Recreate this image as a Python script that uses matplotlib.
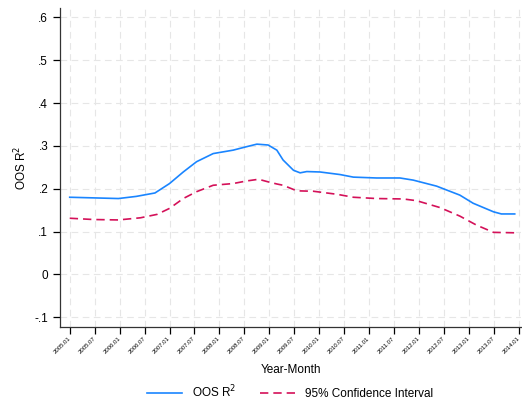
import numpy as np
import matplotlib.pyplot as plt

plt.rcParams['font.family'] = ['Liberation Sans', 'DejaVu Sans']

# months counted from 2005.01 (0) to 2013.12 (107)
oos_month = [0, 11.7, 16, 20.5, 24, 27.3, 30.5, 34.5, 39.3, 42.5, 45, 47.7,
             49.8, 51.3, 53.8, 55.4, 57, 60.2, 65, 68.2, 73.8, 79.4, 82.6,
             88.2, 93.8, 97, 101.9, 103.8, 107]
oos_r2 = [0.180, 0.177, 0.182, 0.190, 0.212, 0.239, 0.263, 0.282, 0.290,
          0.298, 0.304, 0.302, 0.290, 0.267, 0.243, 0.237, 0.240, 0.239,
          0.233, 0.227, 0.225, 0.225, 0.220, 0.206, 0.185, 0.166, 0.146,
          0.141, 0.141]

ci_month = [0, 5.7, 11.7, 17, 21, 24, 27.3, 30.5, 34.5, 39.3, 42.5, 45.4,
            47.7, 49.8, 51.3, 54.6, 58.6, 64.2, 68.2, 73.8, 80.2, 83.4, 89,
            93.8, 97.8, 101.9, 107]
ci_low = [0.131, 0.128, 0.127, 0.132, 0.140, 0.154, 0.177, 0.193, 0.208,
          0.212, 0.218, 0.222, 0.216, 0.211, 0.208, 0.195, 0.194, 0.187,
          0.180, 0.177, 0.176, 0.172, 0.156, 0.136, 0.115, 0.098, 0.097]

tick_labels = ['%d.%02d' % (y, m) for y in range(2005, 2014) for m in (1, 7)] + ['2014.01']
tick_pos = np.arange(len(tick_labels)) * 6
y_ticks = [-0.1, 0, 0.1, 0.2, 0.3, 0.4, 0.5, 0.6]
y_labels = ['-.1', '0', '.1', '.2', '.3', '.4', '.5', '.6']

fig = plt.figure(figsize=(5.22, 4.05), dpi=100)
ax = fig.add_axes([0.115, 0.193, 0.883, 0.787])

ax.plot(oos_month, oos_r2, color='#1a85ff', lw=1.2, label='OOS R$^2$')
ax.plot(ci_month, ci_low, color='#d41159', lw=1.2, ls=(0, (5, 3)),
        label='95% Confidence Interval')

ax.set_xlim(-2.33, 108.5)
ax.set_ylim(-0.1226, 0.6217)
ax.set_xticks(tick_pos)
# slanted date labels ending right under each tick
ax.set_xticklabels(tick_labels, rotation=45, fontsize=4.3, ha='right',
                   va='center', rotation_mode='anchor')
ax.set_yticks(y_ticks)
ax.set_yticklabels(y_labels, fontsize=8.5)
ax.tick_params(axis='x', length=5, width=0.9, pad=3, color='black')
ax.tick_params(axis='y', length=5, width=0.9, color='black')

ax.grid(True, color='#e6e6e6', ls=(0, (6, 4)), lw=0.8)
ax.set_axisbelow(True)
for s in ('top', 'right'):
    ax.spines[s].set_visible(False)
for s in ('left', 'bottom'):
    ax.spines[s].set_color('#333333')
    ax.spines[s].set_linewidth(0.9)

ax.set_xlabel('Year-Month', fontsize=8.5, labelpad=6)
ax.set_ylabel('OOS R$^2$', fontsize=8.5, labelpad=4)

fig.legend(loc='center', bbox_to_anchor=(0.555, 0.032), ncol=2, frameon=False,
           fontsize=8.5, handlelength=3.0, columnspacing=2.0)

fig.savefig('out.png', dpi=100)
